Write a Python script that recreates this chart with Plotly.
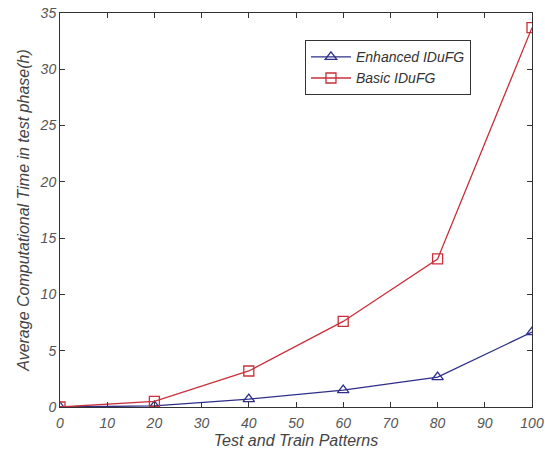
import plotly.graph_objects as go

x_vals = [0, 20, 40, 60, 80, 100]
enhanced = [0.0, 0.1, 0.7, 1.5, 2.65, 6.65]
basic = [0.0, 0.5, 3.2, 7.6, 13.15, 33.7]
x_ticks = [0, 10, 20, 30, 40, 50, 60, 70, 80, 90, 100]
y_ticks = [0, 5, 10, 15, 20, 25, 30, 35]

blue = "#2E2E8A"
red = "#C8303A"

fig = go.Figure()
fig.add_trace(go.Scatter(x=x_vals, y=enhanced, mode="lines+markers", name="Enhanced IDuFG",
                         line=dict(color=blue, width=1.3),
                         marker=dict(symbol="triangle-up-open", size=10, color=blue, line=dict(width=1.3))))
fig.add_trace(go.Scatter(x=x_vals, y=basic, mode="lines+markers", name="Basic IDuFG",
                         line=dict(color=red, width=1.3),
                         marker=dict(symbol="square-open", size=10, color=red, line=dict(width=1.3))))

axis_common = dict(showgrid=False, zeroline=False, showline=True, linecolor="#333333", linewidth=1,
                   mirror="allticks", ticks="inside", ticklen=5, tickcolor="#333333", automargin=False,
                   tickfont=dict(family="Liberation Sans, Arial", size=14, color="#555555", style="italic"))

fig.update_layout(
    width=545, height=455,
    margin=dict(l=60, r=13, t=13, b=48),
    paper_bgcolor="white", plot_bgcolor="white",
    showlegend=True,
    legend=dict(x=0.519, y=0.931, xanchor="left", yanchor="top",
                bordercolor="#333333", borderwidth=1, bgcolor="white",
                font=dict(family="Liberation Sans, Arial", size=14, color="#333333", style="italic"),
                tracegroupgap=2, itemwidth=40),
    xaxis=dict(range=[0, 100], tickvals=x_ticks, ticklabelstandoff=3,
               title=dict(text="Test and Train Patterns", standoff=5,
                          font=dict(family="Liberation Sans, Arial", size=16, color="#444444", style="italic")),
               **axis_common),
    yaxis=dict(range=[0, 35], tickvals=y_ticks,
               title=dict(text="Average Computational Time in test phase(h)", standoff=6,
                          font=dict(family="Liberation Sans, Arial", size=16, color="#444444", style="italic")),
               **axis_common),
)

fig.write_html("out.html", config={"displayModeBar": False},
               post_script="document.body.style.margin='0';")
